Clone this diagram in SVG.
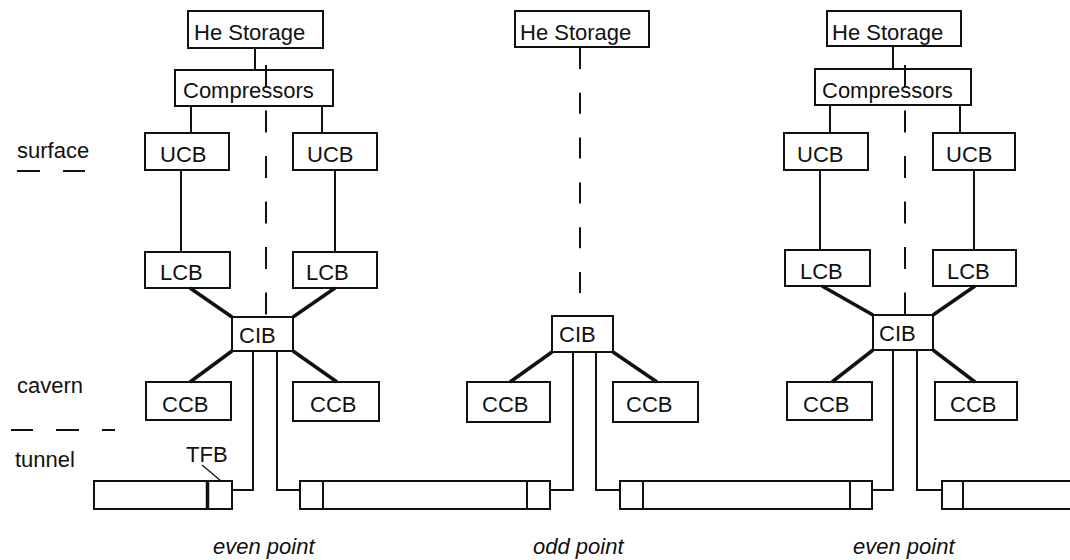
<svg xmlns="http://www.w3.org/2000/svg" width="1070" height="560" viewBox="0 0 1070 560">
  <style>
    .box { fill: #fff; stroke: #111; stroke-width: 2; }
    .lbl { font-family: "Liberation Sans", Arial, sans-serif; font-size: 22px; fill: #111; }
    .cap { font-family: "Liberation Sans", Arial, sans-serif; font-size: 22px; font-style: italic; fill: #111; }
    .thin { stroke: #111; stroke-width: 2; fill: none; }
    .thick { stroke: #111; stroke-width: 3.5; fill: none; }
    .dash { stroke: #111; stroke-width: 2; fill: none; stroke-dasharray: 22 23.5; }
    .tube { fill: #fff; stroke: #111; stroke-width: 2; }
  </style>

  <rect x="0" y="0" width="1070" height="560" fill="#fff"/>

  <!-- level labels -->
  <g id="levels">
    <text class="lbl" x="17" y="158">surface</text>
    <line class="thin" x1="17" y1="171" x2="40" y2="171"/>
    <line class="thin" x1="63" y1="171" x2="85" y2="171"/>
    <text class="lbl" x="17" y="393">cavern</text>
    <line class="thin" x1="11" y1="430" x2="33" y2="430"/>
    <line class="thin" x1="56" y1="430" x2="79" y2="430"/>
    <line class="thin" x1="102" y1="430" x2="115" y2="430"/>
    <text class="lbl" x="15" y="467">tunnel</text>
  </g>

  <!-- even point (left) -->
  <g id="he-storage-1"><rect class="box" x="188" y="11" width="135" height="37"/><text class="lbl" x="194" y="40">He Storage</text></g>
  <g id="compressors-1"><rect class="box" x="175" y="70" width="158" height="36"/><text class="lbl" x="183" y="98">Compressors</text></g>
  <g id="ucb-1a"><rect class="box" x="145" y="133" width="84" height="37"/><text class="lbl" x="160" y="162">UCB</text></g>
  <g id="ucb-1b"><rect class="box" x="293" y="133" width="84" height="37"/><text class="lbl" x="307" y="162">UCB</text></g>
  <g id="lcb-1a"><rect class="box" x="145" y="252" width="85" height="36"/><text class="lbl" x="160" y="280">LCB</text></g>
  <g id="lcb-1b"><rect class="box" x="293" y="252" width="84" height="36"/><text class="lbl" x="306" y="280">LCB</text></g>
  <g id="cib-1"><rect class="box" x="232" y="317" width="61" height="34"/><text class="lbl" x="239" y="343">CIB</text></g>
  <g id="ccb-1a"><rect class="box" x="146" y="382" width="85" height="38"/><text class="lbl" x="162" y="412">CCB</text></g>
  <g id="ccb-1b"><rect class="box" x="293" y="382" width="86" height="39"/><text class="lbl" x="310" y="412">CCB</text></g>

  <!-- odd point (middle) -->
  <g id="he-storage-2"><rect class="box" x="515" y="11" width="134" height="36"/><text class="lbl" x="520" y="40">He Storage</text></g>
  <g id="cib-2"><rect class="box" x="552" y="316" width="61" height="36"/><text class="lbl" x="559" y="342">CIB</text></g>
  <g id="ccb-2a"><rect class="box" x="467" y="382" width="83" height="40"/><text class="lbl" x="482" y="412">CCB</text></g>
  <g id="ccb-2b"><rect class="box" x="613" y="382" width="85" height="40"/><text class="lbl" x="626" y="412">CCB</text></g>

  <!-- even point (right) -->
  <g id="he-storage-3"><rect class="box" x="827" y="11" width="134" height="35"/><text class="lbl" x="832" y="40">He Storage</text></g>
  <g id="compressors-3"><rect class="box" x="815" y="69" width="156" height="36"/><text class="lbl" x="822" y="98">Compressors</text></g>
  <g id="ucb-3a"><rect class="box" x="784" y="133" width="84" height="37"/><text class="lbl" x="797" y="162">UCB</text></g>
  <g id="ucb-3b"><rect class="box" x="933" y="133" width="82" height="37"/><text class="lbl" x="946" y="162">UCB</text></g>
  <g id="lcb-3a"><rect class="box" x="785" y="250" width="85" height="36"/><text class="lbl" x="800" y="279">LCB</text></g>
  <g id="lcb-3b"><rect class="box" x="933" y="250" width="83" height="36"/><text class="lbl" x="947" y="279">LCB</text></g>
  <g id="cib-3"><rect class="box" x="873" y="315" width="60" height="35"/><text class="lbl" x="879" y="341">CIB</text></g>
  <g id="ccb-3a"><rect class="box" x="787" y="382" width="85" height="38"/><text class="lbl" x="803" y="412">CCB</text></g>
  <g id="ccb-3b"><rect class="box" x="935" y="382" width="82" height="38"/><text class="lbl" x="950" y="412">CCB</text></g>

  <!-- tunnel sectors -->
  <g id="tunnel">
    <rect class="tube" x="94" y="481" width="138" height="28"/>
    <line class="thick" x1="207.5" y1="481" x2="207.5" y2="509"/>
    <rect class="tube" x="300" y="481" width="250" height="28"/>
    <line class="thin" x1="323" y1="481" x2="323" y2="509"/>
    <line class="thin" x1="527" y1="481" x2="527" y2="509"/>
    <rect class="tube" x="620" y="481" width="252" height="28"/>
    <line class="thin" x1="643" y1="481" x2="643" y2="509"/>
    <line class="thin" x1="850" y1="481" x2="850" y2="509"/>
    <path class="tube" d="M1074,481 H942 V509 H1074"/>
    <line class="thin" x1="963" y1="481" x2="963" y2="509"/>
  </g>
  <g id="tfb">
    <text class="lbl" x="186" y="462">TFB</text>
    <line stroke="#111" stroke-width="1.2" x1="202" y1="465" x2="221" y2="481"/>
  </g>

  <!-- connectors -->
  <g id="connectors">
    <!-- left -->
    <line class="thin" x1="255" y1="48" x2="255" y2="70"/>
    <line class="thin" x1="191" y1="106" x2="191" y2="133"/>
    <line class="thin" x1="322" y1="106" x2="322" y2="133"/>
    <line class="thin" x1="181" y1="170" x2="181" y2="252"/>
    <line class="thin" x1="335" y1="170" x2="335" y2="252"/>
    <line class="thick" x1="190" y1="288" x2="232" y2="317"/>
    <line class="thick" x1="335" y1="288" x2="293" y2="317"/>
    <line class="thick" x1="232" y1="351" x2="190" y2="382"/>
    <line class="thick" x1="293" y1="351" x2="337" y2="382"/>
    <line class="dash" x1="266" y1="65" x2="266" y2="317"/>
    <path class="thin" d="M253,351 V490 H232"/>
    <path class="thin" d="M277,351 V490 H300"/>
    <!-- middle -->
    <line class="dash" x1="580" y1="48" x2="580" y2="296" style="stroke-dasharray: 21 23.8"/>
    <line class="thick" x1="552" y1="352" x2="510" y2="382"/>
    <line class="thick" x1="613" y1="352" x2="657" y2="382"/>
    <path class="thin" d="M573,352 V490 H550"/>
    <path class="thin" d="M596,352 V490 H620"/>
    <!-- right -->
    <line class="thin" x1="893" y1="46" x2="893" y2="69"/>
    <line class="thin" x1="830" y1="105" x2="830" y2="133"/>
    <line class="thin" x1="960" y1="105" x2="960" y2="133"/>
    <line class="thin" x1="820" y1="170" x2="820" y2="250"/>
    <line class="thin" x1="974" y1="170" x2="974" y2="250"/>
    <line class="thick" x1="822" y1="286" x2="873" y2="315"/>
    <line class="thick" x1="975" y1="286" x2="933" y2="315"/>
    <line class="thick" x1="873" y1="350" x2="832" y2="382"/>
    <line class="thick" x1="933" y1="350" x2="975" y2="382"/>
    <line class="dash" x1="905" y1="65" x2="905" y2="315"/>
    <path class="thin" d="M893,350 V490 H872"/>
    <path class="thin" d="M917,350 V490 H942"/>
  </g>

  <!-- captions -->
  <g id="captions">
    <text class="cap" x="213" y="554">even point</text>
    <text class="cap" x="533" y="554">odd point</text>
    <text class="cap" x="853" y="554">even point</text>
  </g>
</svg>
